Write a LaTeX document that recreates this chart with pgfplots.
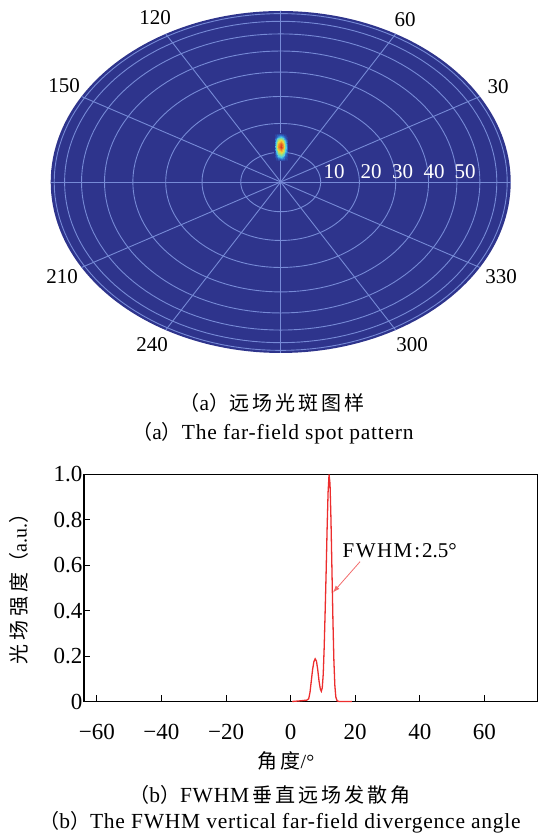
\documentclass[border=0pt]{standalone}
\usepackage{fontspec}
\setmainfont{Liberation Serif}
\newfontfamily\capfont[LetterSpace=3.5]{Liberation Serif}
\newfontfamily\cjk{Noto Sans CJK SC}
\usepackage{pgfplots}
\pgfplotsset{compat=1.18}
\usetikzlibrary{arrows.meta}
\definecolor{bgblue}{RGB}{46,52,140}
\definecolor{gridc}{RGB}{118,138,214}
\definecolor{curve}{RGB}{236,45,45}
\newcommand{\fs}{\fontsize{21}{24}\selectfont}
\newcommand{\ts}{\fontsize{23}{26}\selectfont}
\newcommand{\cs}{\fontsize{20}{24}\selectfont}
\newcommand{\ccs}{\capfont\fontsize{21.5}{24}\selectfont}
\newcommand{\ck}{\kern3pt}

\pgfplotstableread{
x y
0.5 0
3 0.003
5 0.006
5.6 0.012
6.0 0.04
6.4 0.09
6.8 0.14
7.2 0.175
7.6 0.188
8.0 0.178
8.4 0.14
8.8 0.09
9.2 0.055
9.5 0.045
9.8 0.06
10.1 0.12
10.4 0.24
10.7 0.40
11.0 0.57
11.3 0.76
11.6 0.92
11.9 1.0
12.2 0.96
12.5 0.80
12.8 0.58
13.1 0.36
13.4 0.18
13.7 0.07
14.0 0.02
14.4 0.003
15 0
19 0
}\profile

\begin{document}
\begin{tikzpicture}
\useasboundingbox (0pt,0pt) rectangle (539pt,834pt);
% ---------------- (a) far-field spot pattern ----------------
\begin{axis}[at={(280.7pt,652pt)}, anchor=center, scale only axis,
  width=460pt, height=342pt, xmin=-1, xmax=1, ymin=-1, ymax=1,
  hide axis, clip=false,
  colormap={spot}{rgb255(0cm)=(46,52,140) rgb255(1cm)=(45,110,205) rgb255(2cm)=(80,205,230) rgb255(4cm)=(170,225,110) rgb255(5.5cm)=(245,215,60) rgb255(7.5cm)=(240,140,40) rgb255(10cm)=(215,55,35)},
  point meta min=0, point meta max=1]
\addplot[fill=bgblue, draw=none, domain=0:360, samples=181] ({cos(x)},{sin(x)}) -- cycle;
\pgfplotsinvokeforeach{0.1736,0.3420,0.5,0.6428,0.7660,0.8660,0.9397,0.9848}{
  \addplot[gridc, line width=0.9pt, domain=0:360, samples=145] ({#1*cos(x)},{#1*sin(x)});
}
\addplot[gridc, line width=0.9pt] coordinates {(-1,0) (1,0)};
\addplot[gridc, line width=0.9pt] coordinates {(0,-1) (0,1)};
\addplot[gridc, line width=0.9pt] coordinates {(-0.866,-0.5) (0.866,0.5)};
\addplot[gridc, line width=0.9pt] coordinates {(-0.5,-0.866) (0.5,0.866)};
\addplot[gridc, line width=0.9pt] coordinates {(-0.866,0.5) (0.866,-0.5)};
\addplot[gridc, line width=0.9pt] coordinates {(-0.5,0.866) (0.5,-0.866)};
\addplot[surf, shader=interp, mesh/cols=7, mesh/rows=9, point meta=explicit]
 table[x=x, y=y, meta=z] {
x y z
-0.03 0.125 0
-0.02 0.125 0
-0.01 0.125 0
0 0.125 0
0.01 0.125 0
0.02 0.125 0
0.03 0.125 0
-0.03 0.145 0
-0.02 0.145 0.06
-0.01 0.145 0.15
0 0.145 0.2
0.01 0.145 0.15
0.02 0.145 0.06
0.03 0.145 0
-0.03 0.165 0
-0.02 0.165 0.12
-0.01 0.165 0.3
0 0.165 0.4
0.01 0.165 0.3
0.02 0.165 0.12
0.03 0.165 0
-0.03 0.185 0
-0.02 0.185 0.225
-0.01 0.185 0.56
0 0.185 0.75
0.01 0.185 0.56
0.02 0.185 0.225
0.03 0.185 0
-0.03 0.205 0
-0.02 0.205 0.3
-0.01 0.205 0.75
0 0.205 1
0.01 0.205 0.75
0.02 0.205 0.3
0.03 0.205 0
-0.03 0.225 0
-0.02 0.225 0.27
-0.01 0.225 0.68
0 0.225 0.9
0.01 0.225 0.68
0.02 0.225 0.27
0.03 0.225 0
-0.03 0.245 0
-0.02 0.245 0.165
-0.01 0.245 0.41
0 0.245 0.55
0.01 0.245 0.41
0.02 0.245 0.165
0.03 0.245 0
-0.03 0.265 0
-0.02 0.265 0.06
-0.01 0.265 0.15
0 0.265 0.2
0.01 0.265 0.15
0.02 0.265 0.06
0.03 0.265 0
-0.03 0.285 0
-0.02 0.285 0
-0.01 0.285 0
0 0.285 0
0.01 0.285 0
0.02 0.285 0
0.03 0.285 0
};
\end{axis}
% angle labels
\node[font=\fs] at (155pt,816pt) {120};
\node[font=\fs] at (405pt,814pt) {60};
\node[font=\fs] at (64pt,748pt) {150};
\node[font=\fs] at (498pt,747pt) {30};
\node[font=\fs] at (62pt,557pt) {210};
\node[font=\fs] at (501pt,557pt) {330};
\node[font=\fs] at (152pt,489pt) {240};
\node[font=\fs] at (412pt,489pt) {300};
\node[font=\fs, white] at (334pt,662.5pt) {10};
\node[font=\fs, white] at (371pt,662.5pt) {20};
\node[font=\fs, white] at (402.5pt,662.5pt) {30};
\node[font=\fs, white] at (434pt,662.5pt) {40};
\node[font=\fs, white] at (465pt,662.5pt) {50};
% caption (a)
\node[font=\ccs] at (272pt,431pt) {{\cjk\cs （}a{\cjk\cs ）}{\cjk\cs 远\ck 场\ck 光\ck 斑\ck 图\ck 样}};
\node[font=\ccs] at (273pt,401pt) {{\cjk\cs （}a{\cjk\cs ）}The far-field spot pattern};
% ---------------- (b) FWHM ----------------
\begin{axis}[at={(84pt,132.5pt)}, anchor=south west, scale only axis,
  width=453.6pt, height=227pt, xmin=-64, xmax=76.5, ymin=0, ymax=1,
  axis line style={line width=1.1pt, black},
  tick align=inside, xtick pos=bottom, ytick pos=left,
  xtick={-60,-40,-20,0,20,40,60}, xticklabels={−60,−40,−20,0,20,40,60},
  ytick={0,0.2,0.4,0.6,0.8,1}, yticklabels={0,0.2,0.4,0.6,0.8,1.0},
  major tick length=6pt, tick style={line width=1pt, black},
  tick label style={font=\ts},
  xticklabel style={yshift=-19pt}, yticklabel style={xshift=2pt},
  clip=false]
\addplot[curve, line width=1.3pt] table[x=x, y=y] {\profile};
\draw[curve!70, line width=0.8pt, -{Latex[length=7pt,width=5pt]}] (axis cs:21.5,0.616) -- (axis cs:13.1,0.48);
\node[font=\fs, anchor=west] at (axis cs:15.0,0.663) {F\kern1.5pt W\kern1.5pt H\kern1.5pt M\kern2pt:\kern2pt 2.5°};
\end{axis}
\node[font=\cs, rotate=90] at (19pt,250pt) {{\cjk 光\kern4pt 场\kern4pt 强\kern4pt 度（}a.u.{\cjk ）}};
\node[font=\cs] at (286pt,73pt) {{\cjk 角\ck 度}/°};
% caption (b)
\node[font=\ccs] at (270pt,39pt) {{\cjk\cs （}b{\cjk\cs ）}FWHM\,{\cjk\cs 垂\ck 直\ck 远\ck 场\ck 发\ck 散\ck 角}};
\node[font=\ccs] at (280pt,12pt) {{\cjk\cs （}b{\cjk\cs ）}The FWHM vertical far-field divergence angle};
\end{tikzpicture}
\end{document}
